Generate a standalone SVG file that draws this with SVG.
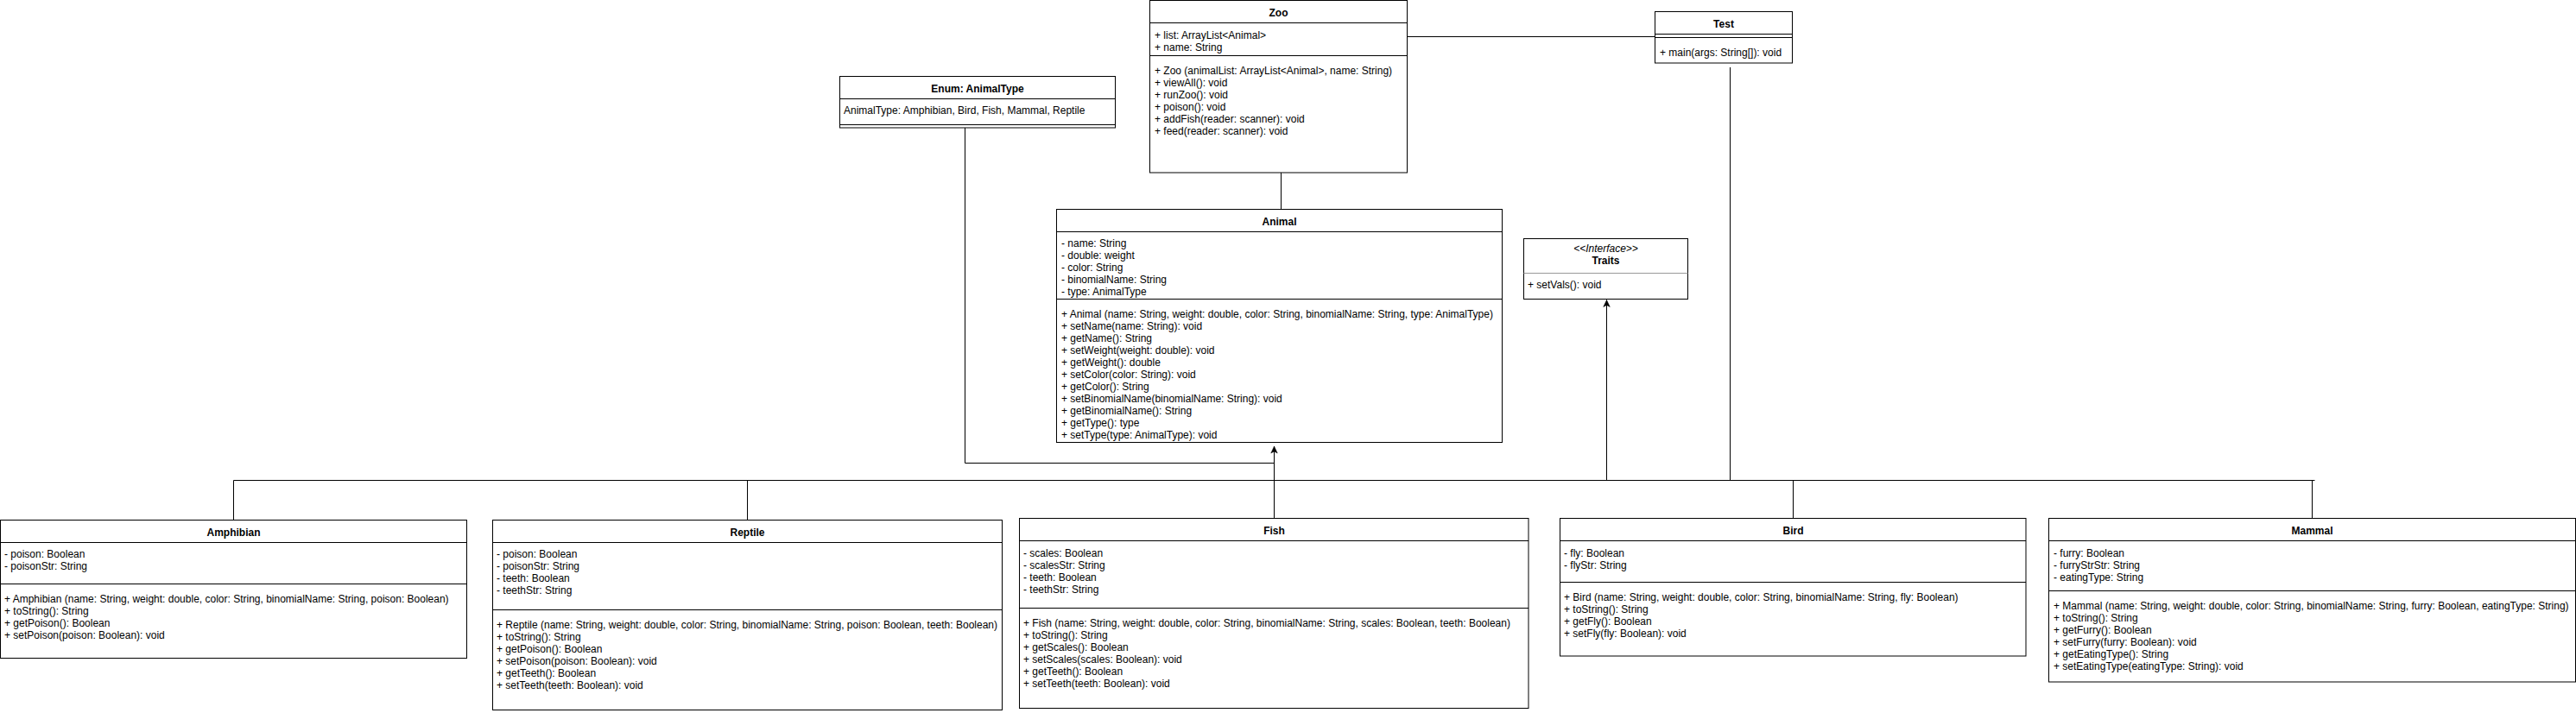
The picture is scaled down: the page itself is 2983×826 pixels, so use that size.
<svg xmlns="http://www.w3.org/2000/svg" width="2983" height="826" viewBox="0 0 2983 826">
<style>
.bg{fill:#fff}
.box{fill:#fff;stroke:#000;stroke-width:1}
.ln{stroke:#000;stroke-width:1;fill:none}
.gl{stroke:#999;stroke-width:1;fill:none}
text{font-family:"Liberation Sans",Arial,Helvetica,sans-serif;font-size:12px;fill:#000}
.h{font-weight:bold;text-anchor:middle}
.c{text-anchor:middle}
.i{font-style:italic}
</style>
<defs>
<marker id="arr" markerUnits="userSpaceOnUse" markerWidth="10" markerHeight="8" refX="8" refY="3.75" orient="auto" overflow="visible">
<path d="M8,3.75 L0,0 L2,3.75 L0,7.5 Z" fill="#000" stroke="#000" stroke-width="0.5"/>
</marker>
</defs>
<rect class="bg" x="0" y="0" width="2983" height="826"/>

<g id="connectors">
<path class="ln" d="M1630 42.5 H1916.5"/>
<path class="ln" d="M1483.5 200 V242.5"/>
<path class="ln" d="M1117.5 148 V536.5 H1475.5"/>
<path class="ln" d="M270.5 602.5 V556.5 H2680.5"/>
<path class="ln" d="M865.5 602.5 V556.5"/>
<path class="ln" d="M2076.5 600.5 V556.5"/>
<path class="ln" d="M2677.5 600.5 V556.5"/>
<path class="ln" d="M2003.5 78 V556.5"/>
<path class="ln" d="M1475.5 600.5 V517" marker-end="url(#arr)"/>
<path class="ln" d="M1860.5 556.5 V347.5" marker-end="url(#arr)"/>
</g>

<g id="zoo">
<rect class="box" x="1331.5" y="0.5" width="298" height="199.5"/>
<path class="ln" d="M1331.5 26.5 H1629.5 M1331.5 64.5 H1629.5"/>
<text class="h" x="1480.5" y="19">Zoo</text>
<text x="1337" y="45">+ list: ArrayList&lt;Animal&gt;</text>
<text x="1337" y="59">+ name: String</text>
<text x="1337" y="86">+ Zoo (animalList: ArrayList&lt;Animal&gt;, name: String)</text>
<text x="1337" y="100">+ viewAll(): void</text>
<text x="1337" y="114">+ runZoo(): void</text>
<text x="1337" y="128">+ poison(): void</text>
<text x="1337" y="142">+ addFish(reader: scanner): void</text>
<text x="1337" y="156">+ feed(reader: scanner): void</text>
</g>

<g id="test">
<rect class="box" x="1916.5" y="13.5" width="159" height="59.5"/>
<path class="ln" d="M1916.5 39.5 H2075.5 M1916.5 43.5 H2075.5"/>
<text class="h" x="1996" y="31.5">Test</text>
<text x="1922" y="65">+ main(args: String[]): void</text>
</g>

<g id="enum">
<rect class="box" x="972.5" y="88.5" width="319" height="59.5"/>
<path class="ln" d="M972.5 114.5 H1291.5 M972.5 144.5 H1291.5"/>
<text class="h" x="1132" y="106.5">Enum: AnimalType</text>
<text x="977" y="132">AnimalType: Amphibian, Bird, Fish, Mammal, Reptile</text>
</g>

<g id="animal">
<rect class="box" x="1223.5" y="242.5" width="516" height="270"/>
<path class="ln" d="M1223.5 268.5 H1739.5 M1223.5 346.5 H1739.5"/>
<text class="h" x="1481.5" y="260.5">Animal</text>
<text x="1229" y="286">- name: String</text>
<text x="1229" y="300">- double: weight</text>
<text x="1229" y="314">- color: String</text>
<text x="1229" y="328">- binomialName: String</text>
<text x="1229" y="342">- type: AnimalType</text>
<text x="1229" y="368">+ Animal (name: String, weight: double, color: String, binomialName: String, type: AnimalType)</text>
<text x="1229" y="382">+ setName(name: String): void</text>
<text x="1229" y="396">+ getName(): String</text>
<text x="1229" y="410">+ setWeight(weight: double): void</text>
<text x="1229" y="424">+ getWeight(): double</text>
<text x="1229" y="438">+ setColor(color: String): void</text>
<text x="1229" y="452">+ getColor(): String</text>
<text x="1229" y="466">+ setBinomialName(binomialName: String): void</text>
<text x="1229" y="480">+ getBinomialName(): String</text>
<text x="1229" y="494">+ getType(): type</text>
<text x="1229" y="508">+ setType(type: AnimalType): void</text>
</g>

<g id="traits">
<rect class="box" x="1764.5" y="276.5" width="190" height="70"/>
<path class="gl" d="M1764.5 316.5 H1954.5"/>
<text class="c i" x="1859.5" y="292">&lt;&lt;Interface&gt;&gt;</text>
<text class="h" x="1859.5" y="306">Traits</text>
<text x="1769" y="334">+ setVals(): void</text>
</g>

<g id="amphibian">
<rect class="box" x="0.5" y="602.5" width="540" height="160"/>
<path class="ln" d="M0.5 628.5 H540.5 M0.5 676.5 H540.5"/>
<text class="h" x="270.5" y="620.5">Amphibian</text>
<text x="5" y="646">- poison: Boolean</text>
<text x="5" y="660">- poisonStr: String</text>
<text x="5" y="698">+ Amphibian (name: String, weight: double, color: String, binomialName: String, poison: Boolean)</text>
<text x="5" y="712">+ toString(): String</text>
<text x="5" y="726">+ getPoison(): Boolean</text>
<text x="5" y="740">+ setPoison(poison: Boolean): void</text>
</g>

<g id="reptile">
<rect class="box" x="570.5" y="602.5" width="590" height="220"/>
<path class="ln" d="M570.5 628.5 H1160.5 M570.5 706.5 H1160.5"/>
<text class="h" x="865.5" y="620.5">Reptile</text>
<text x="575" y="646">- poison: Boolean</text>
<text x="575" y="660">- poisonStr: String</text>
<text x="575" y="674">- teeth: Boolean</text>
<text x="575" y="688">- teethStr: String</text>
<text x="575" y="728">+ Reptile (name: String, weight: double, color: String, binomialName: String, poison: Boolean, teeth: Boolean)</text>
<text x="575" y="742">+ toString(): String</text>
<text x="575" y="756">+ getPoison(): Boolean</text>
<text x="575" y="770">+ setPoison(poison: Boolean): void</text>
<text x="575" y="784">+ getTeeth(): Boolean</text>
<text x="575" y="798">+ setTeeth(teeth: Boolean): void</text>
</g>

<g id="fish">
<rect class="box" x="1180.5" y="600.5" width="589.5" height="220"/>
<path class="ln" d="M1180.5 626.5 H1770 M1180.5 704.5 H1770"/>
<text class="h" x="1475.5" y="618.5">Fish</text>
<text x="1185" y="644.5">- scales: Boolean</text>
<text x="1185" y="658.5">- scalesStr: String</text>
<text x="1185" y="672.5">- teeth: Boolean</text>
<text x="1185" y="686.5">- teethStr: String</text>
<text x="1185" y="726">+ Fish (name: String, weight: double, color: String, binomialName: String, scales: Boolean, teeth: Boolean)</text>
<text x="1185" y="740">+ toString(): String</text>
<text x="1185" y="754">+ getScales(): Boolean</text>
<text x="1185" y="768">+ setScales(scales: Boolean): void</text>
<text x="1185" y="782">+ getTeeth(): Boolean</text>
<text x="1185" y="796">+ setTeeth(teeth: Boolean): void</text>
</g>

<g id="bird">
<rect class="box" x="1806.5" y="600.5" width="539.5" height="159.5"/>
<path class="ln" d="M1806.5 626.5 H2346 M1806.5 674.5 H2346"/>
<text class="h" x="2076.5" y="618.5">Bird</text>
<text x="1811" y="644.5">- fly: Boolean</text>
<text x="1811" y="658.5">- flyStr: String</text>
<text x="1811" y="696">+ Bird (name: String, weight: double, color: String, binomialName: String, fly: Boolean)</text>
<text x="1811" y="710">+ toString(): String</text>
<text x="1811" y="724">+ getFly(): Boolean</text>
<text x="1811" y="738">+ setFly(fly: Boolean): void</text>
</g>

<g id="mammal">
<rect class="box" x="2372.5" y="600.5" width="610" height="189.5"/>
<path class="ln" d="M2372.5 626.5 H2982.5 M2372.5 684.5 H2982.5"/>
<text class="h" x="2677.5" y="618.5">Mammal</text>
<text x="2378" y="644.5">- furry: Boolean</text>
<text x="2378" y="658.5">- furryStrStr: String</text>
<text x="2378" y="672.5">- eatingType: String</text>
<text x="2378" y="706">+ Mammal (name: String, weight: double, color: String, binomialName: String, furry: Boolean, eatingType: String)</text>
<text x="2378" y="720">+ toString(): String</text>
<text x="2378" y="734">+ getFurry(): Boolean</text>
<text x="2378" y="748">+ setFurry(furry: Boolean): void</text>
<text x="2378" y="762">+ getEatingType(): String</text>
<text x="2378" y="776">+ setEatingType(eatingType: String): void</text>
</g>
</svg>
